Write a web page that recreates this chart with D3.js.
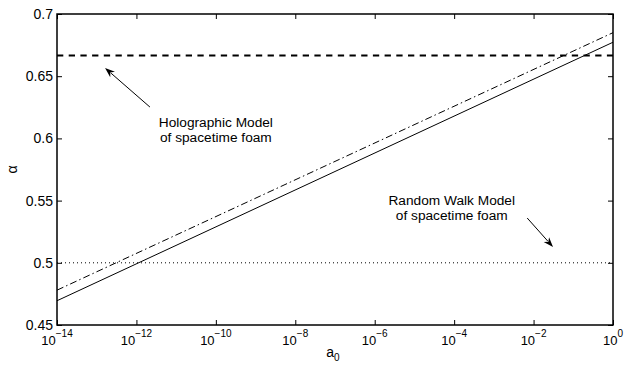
<!DOCTYPE html>
<html>
<head>
<meta charset="utf-8">
<script src="https://cdn.jsdelivr.net/npm/d3@7"></script>
<style>
  html, body { margin: 0; padding: 0; background: #fff; }
  svg { display: block; font-family: "Liberation Sans", Arial, Helvetica, sans-serif; }
</style>
</head>
<body>
<svg id="chart" width="624" height="365"></svg>
<script>
// ---- data ----
const a0Values = [1e-14, 1e0];
const alphaSolid = [0.4695, 0.6773];
const alphaDashDot = [0.478, 0.685];
const alphaHolographic = [2 / 3, 2 / 3];
const alphaRandomWalk = [0.5, 0.5];
const xTickExponents = [-14, -12, -10, -8, -6, -4, -2, 0];
const yTickValues = [0.45, 0.5, 0.55, 0.6, 0.65, 0.7];
const yTickLabels = ["0.45", "0.5", "0.55", "0.6", "0.65", "0.7"];
const annotationHolo = { text: ["Holographic Model", "of spacetime foam"], textX: 1e-10, textY: 0.6095, tail: [10 ** -11.66, 0.6252], head: [10 ** -12.79, 0.6566] };
const annotationRW = { text: ["Random Walk Model", "of spacetime foam"], textX: 10 ** -4.06, textY: 0.5465, tail: [10 ** -2.16, 0.536], head: [10 ** -1.51, 0.5127] };

(function () {
// ---- layout ----
const W = 624, H = 365;
const m = { left: 57, right: 11, top: 14, bottom: 40 };
const svg = d3.select("#chart");
const x = d3.scaleLog().domain([1e-14, 1]).range([m.left, W - m.right]);
const y = d3.scaleLinear().domain([0.45, 0.7]).range([H - m.bottom, m.top]);
const x0 = m.left, x1 = W - m.right, y0 = H - m.bottom, y1 = m.top;
const FS = 13;

// ---- lines ----
const line = d3.line().x(d => x(d[0])).y(d => y(d[1]));
const zipS = vals => a0Values.map((a, i) => [a, vals[i]]);

svg.append("path").attr("d", line(zipS(alphaRandomWalk)))
  .attr("fill", "none").attr("stroke", "#000").attr("stroke-width", 1)
  .attr("stroke-dasharray", "1,3");
svg.append("path").attr("d", line(zipS(alphaHolographic)))
  .attr("fill", "none").attr("stroke", "#000").attr("stroke-width", 2)
  .attr("stroke-dasharray", "6.3,5.4");
svg.append("path").attr("d", line(zipS(alphaDashDot)))
  .attr("fill", "none").attr("stroke", "#000").attr("stroke-width", 1)
  .attr("stroke-dasharray", "7,3,1.5,3");
svg.append("path").attr("d", line(zipS(alphaSolid)))
  .attr("fill", "none").attr("stroke", "#000").attr("stroke-width", 1);

// ---- axes (box with inward ticks on all sides) ----
const tickLen = 5;
const xTicks = xTickExponents.map(e => Math.pow(10, e));
const axB = d3.axisBottom(x).tickValues(xTicks).tickSizeInner(-tickLen).tickSizeOuter(0).tickFormat("");
const axT = d3.axisTop(x).tickValues(xTicks).tickSizeInner(-tickLen).tickSizeOuter(0).tickFormat("");
const axL = d3.axisLeft(y).tickValues(yTickValues).tickSizeInner(-tickLen).tickSizeOuter(0).tickFormat("");
const axR = d3.axisRight(y).tickValues(yTickValues).tickSizeInner(-tickLen).tickSizeOuter(0).tickFormat("");

const gB = svg.append("g").attr("transform", `translate(0,${y0})`).call(axB);
const gT = svg.append("g").attr("transform", `translate(0,${y1})`).call(axT);
const gL = svg.append("g").attr("transform", `translate(${x0},0)`).call(axL);
const gR = svg.append("g").attr("transform", `translate(${x1},0)`).call(axR);
[gB, gT, gL, gR].forEach(g => {
  g.select(".domain").remove();
  g.selectAll(".tick line").attr("stroke", "#000").attr("stroke-width", 1);
});

svg.append("rect").attr("x", x0).attr("y", y1).attr("width", x1 - x0).attr("height", y0 - y1)
  .attr("fill", "none").attr("stroke", "#000").attr("stroke-width", 1.5);

// x tick labels: 10^n
xTickExponents.forEach(e => {
  const t = svg.append("text").attr("x", x(Math.pow(10, e))).attr("y", y0 + 20)
    .attr("text-anchor", "middle").attr("font-size", FS).attr("fill", "#000");
  t.append("tspan").text("10");
  t.append("tspan").attr("dy", -8).attr("font-size", 10).text(e < 0 ? "\u2212" + (-e) : String(e));
});

// y tick labels
yTickValues.forEach((v, i) => {
  svg.append("text").attr("x", x0 - 4).attr("y", y(v)).attr("dy", "0.36em")
    .attr("text-anchor", "end").attr("font-size", 14).attr("fill", "#000").text(yTickLabels[i]);
});

// axis labels
const xl = svg.append("text").attr("x", (x0 + x1) / 2 - 2).attr("y", 357)
  .attr("text-anchor", "middle").attr("font-size", 14).attr("fill", "#000");
xl.append("tspan").text("a");
xl.append("tspan").attr("dy", 4).attr("font-size", 10).text("0");

svg.append("text").attr("transform", `translate(17,${(y0 + y1) / 2}) rotate(-90)`)
  .attr("text-anchor", "middle").attr("font-size", 14).attr("fill", "#000").text("\u03b1");

// ---- annotations ----
function arrow(a) {
  const tx = x(a.tail[0]), ty = y(a.tail[1]), hx = x(a.head[0]), hy = y(a.head[1]);
  const ang = Math.atan2(hy - ty, hx - tx);
  const L = 10, Wd = 3.6;
  const bx = hx - L * Math.cos(ang), by = hy - L * Math.sin(ang);
  svg.append("line").attr("x1", tx).attr("y1", ty).attr("x2", bx + 2 * Math.cos(ang)).attr("y2", by + 2 * Math.sin(ang))
    .attr("stroke", "#000").attr("stroke-width", 1);
  const p1 = [bx + Wd * Math.sin(ang), by - Wd * Math.cos(ang)];
  const p2 = [bx - Wd * Math.sin(ang), by + Wd * Math.cos(ang)];
  const notch = [hx - 0.7 * L * Math.cos(ang), hy - 0.7 * L * Math.sin(ang)];
  svg.append("path").attr("d", `M${hx},${hy}L${p1[0]},${p1[1]}L${notch[0]},${notch[1]}L${p2[0]},${p2[1]}Z`)
    .attr("fill", "#000");
}
function label(a) {
  a.text.forEach((s, i) => {
    svg.append("text").attr("x", x(a.textX)).attr("y", y(a.textY) + i * 15)
      .attr("text-anchor", "middle").attr("font-size", 13.7).attr("fill", "#000").text(s);
  });
}
arrow(annotationHolo); label(annotationHolo);
arrow(annotationRW); label(annotationRW);
})();
</script>
</body>
</html>
